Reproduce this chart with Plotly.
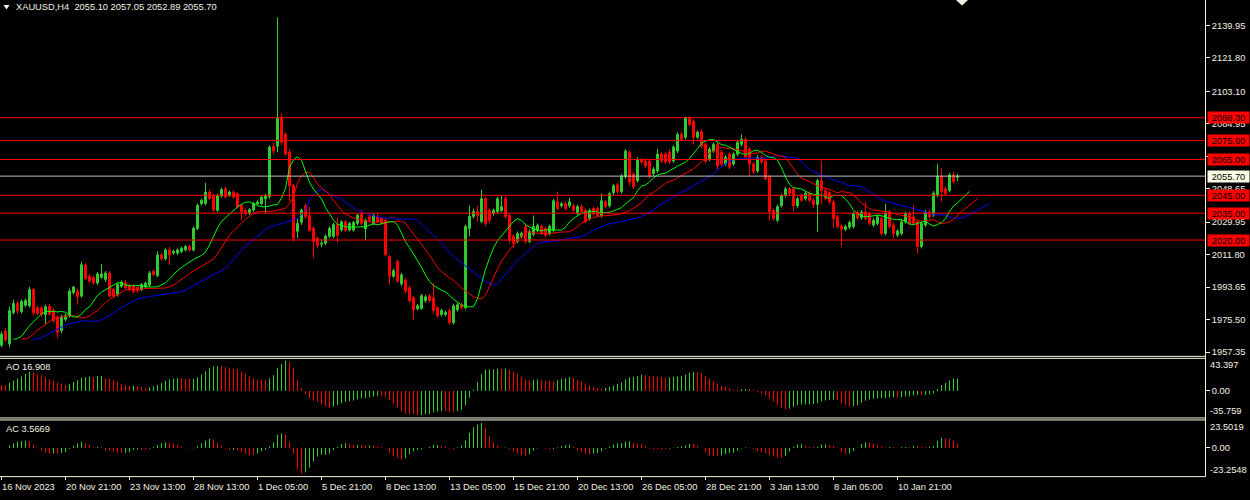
import numpy as np
import pandas as pd
import plotly.graph_objects as go

# ---------------- data ----------------
opens = [
1961.2,1969.0,1962.0,1979.5,1984.6,1980.0,1983.6,1983.2,1992.4,1982.2,
1982.0,1978.4,1983.0,1980.7,1976.7,1969.3,1975.7,1977.6,1990.7,1991.5,
1988.7,2005.9,1999.8,1999.0,1996.0,1999.2,1997.9,2001.6,1992.4,1989.6,
1994.2,1996.0,1994.8,1994.2,1993.7,1992.4,1993.7,1994.8,2002.5,2000.1,
2011.7,2009.5,2014.5,2012.7,2012.7,2013.6,2014.5,2016.4,2014.5,2026.5,
2040.3,2040.3,2046.8,2044.9,2036.7,2044.6,2048.6,2045.0,2046.8,2045.9,
2039.4,2036.7,2034.8,2036.7,2040.3,2040.3,2043.1,2044.2,2072.4,2072.4,
2088.5,2079.1,2069.1,2050.3,2024.9,2029.9,2039.2,2033.7,2026.5,2021.0,
2017.7,2018.2,2022.1,2022.1,2028.7,2025.6,2030.2,2025.6,2025.6,2029.3,
2034.8,2026.2,2033.0,2029.3,2033.0,2032.0,2031.1,2010.8,1999.8,2008.1,
1995.5,1997.7,1993.3,1987.8,1981.7,1981.7,1986.1,1988.9,1987.8,1982.2,
1978.4,1978.4,1980.6,1973.9,1981.1,1983.9,1982.2,2026.5,2033.2,2035.9,
2030.4,2043.1,2036.5,2034.8,2035.9,2036.5,2043.1,2033.7,2022.1,2019.3,
2022.1,2027.6,2019.3,2023.2,2025.4,2027.6,2026.5,2023.7,2025.4,2041.4,
2039.2,2040.3,2039.2,2039.2,2034.8,2038.7,2036.5,2032.0,2037.6,2037.6,
2033.7,2041.4,2039.2,2046.4,2050.9,2047.0,2055.3,2069.1,2056.9,2053.1,
2064.7,2064.1,2064.1,2057.0,2058.6,2068.0,2068.0,2069.1,2064.1,2069.7,
2079.1,2077.4,2088.5,2086.3,2077.4,2080.7,2073.5,2065.2,2069.7,2073.5,
2069.1,2062.5,2068.0,2062.5,2068.0,2073.5,2076.3,2070.8,2062.5,2058.6,
2066.3,2064.1,2055.3,2036.5,2031.0,2039.2,2044.8,2048.6,2048.6,2039.2,
2045.0,2043.1,2046.2,2042.2,2039.8,2053.2,2047.7,2046.4,2041.3,2033.0,
2027.8,2026.0,2027.2,2027.5,2035.4,2032.4,2035.7,2034.8,2028.4,2029.3,
2032.0,2023.7,2035.7,2028.4,2022.8,2023.7,2030.2,2034.8,2033.0,2030.2,
2016.4,2028.4,2035.7,2033.9,2045.0,2055.6,2048.6,2047.7,2056.4,2055.10]

highs = [
1969.0,1970.6,1982.8,1986.7,1986.1,1986.7,1987.3,1993.9,1993.3,1983.3,
1983.0,1983.9,1984.4,1982.2,1977.8,1978.4,1979.0,1992.9,1994.4,1992.9,
2007.7,2007.1,2001.0,2000.0,2002.1,2006.6,2002.7,2002.7,1993.3,1996.0,
1997.4,1997.7,1995.6,1995.1,1994.6,1996.0,1996.9,2002.7,2003.4,2013.6,
2012.7,2015.4,2016.4,2014.5,2015.4,2016.4,2017.3,2017.3,2027.6,2040.3,
2043.1,2052.0,2048.1,2046.0,2046.0,2049.2,2049.7,2047.7,2047.7,2046.8,
2040.3,2037.6,2037.9,2041.3,2042.2,2044.9,2045.9,2073.0,2074.1,2144.4,
2090.7,2080.2,2070.8,2051.4,2032.0,2037.6,2040.3,2038.5,2027.6,2021.9,
2020.5,2023.2,2027.6,2029.8,2032.6,2031.1,2031.1,2030.2,2030.8,2034.8,
2036.5,2032.0,2034.0,2034.8,2035.0,2033.0,2032.0,2011.7,2004.0,2009.0,
2001.6,1998.8,1994.4,1988.9,1984.4,1990.0,1989.4,1990.0,1996.1,1983.3,
1981.7,1980.6,1981.7,1984.4,1985.0,1985.0,2028.7,2039.2,2037.6,2039.2,
2048.1,2044.2,2037.6,2037.6,2044.2,2044.8,2044.8,2034.8,2023.2,2024.8,
2024.8,2029.3,2025.9,2033.7,2029.3,2028.7,2027.6,2028.7,2043.1,2047.0,
2041.4,2041.4,2043.6,2040.3,2039.8,2039.8,2037.6,2037.6,2038.7,2038.7,
2045.9,2042.5,2047.0,2051.4,2052.0,2056.9,2070.8,2070.2,2058.0,2066.3,
2065.8,2065.2,2065.2,2060.8,2070.8,2069.1,2069.1,2070.8,2073.0,2080.2,
2080.7,2089.0,2089.0,2087.4,2081.3,2081.8,2074.6,2071.9,2074.6,2074.6,
2070.2,2067.4,2069.1,2069.1,2075.7,2079.1,2077.4,2071.9,2063.6,2067.4,
2067.4,2065.2,2056.4,2037.6,2039.8,2045.9,2049.7,2049.7,2049.7,2044.2,
2046.1,2047.3,2047.3,2043.3,2054.2,2064.3,2048.8,2047.5,2042.4,2034.1,
2028.9,2028.6,2030.9,2035.9,2036.5,2036.8,2041.3,2035.9,2032.2,2034.1,
2033.1,2040.3,2036.8,2029.5,2026.1,2031.3,2035.9,2035.9,2039.4,2031.3,
2030.4,2036.8,2036.8,2047.3,2062.5,2060.1,2049.7,2057.5,2057.9,2057.05]

lows = [
1960.1,1962.9,1960.1,1978.4,1978.9,1979.0,1982.3,1982.2,1977.9,1977.9,
1977.3,1973.0,1977.8,1973.9,1965.2,1967.9,1974.5,1976.7,1989.5,1984.0,
1987.8,1997.7,1996.1,1995.0,1995.0,1998.3,1996.6,1987.8,1987.8,1988.4,
1993.3,1992.4,1991.2,1990.0,1990.7,1991.5,1992.9,1994.0,1999.8,1999.2,
2008.5,2008.6,2006.2,2011.7,2011.7,2012.7,2013.6,2013.6,2013.6,2025.4,
2039.2,2039.4,2042.2,2035.7,2035.7,2043.6,2043.1,2044.0,2043.1,2037.6,
2031.1,2033.7,2033.9,2035.7,2039.4,2039.4,2034.8,2043.1,2068.0,2069.1,
2073.0,2067.0,2042.0,2019.3,2021.0,2028.4,2032.0,2024.6,2009.9,2015.4,
2016.0,2017.1,2021.0,2021.0,2018.7,2024.6,2024.6,2024.8,2024.6,2028.4,
2028.4,2020.0,2030.2,2028.4,2029.3,2028.4,2010.8,1995.1,1998.8,1996.1,
1994.4,1990.5,1985.0,1975.6,1980.6,1981.1,1985.0,1985.0,1979.0,1976.7,
1977.3,1977.3,1972.8,1972.8,1980.0,1981.1,1981.1,2022.1,2032.0,2030.2,
2029.3,2027.6,2029.3,2033.7,2034.8,2035.4,2032.0,2018.2,2015.4,2018.2,
2021.0,2018.2,2018.2,2022.1,2024.3,2022.6,2021.5,2022.6,2024.3,2036.5,
2038.1,2036.5,2038.1,2035.4,2033.7,2034.8,2029.3,2030.9,2033.7,2032.6,
2032.6,2037.6,2038.1,2045.3,2045.9,2045.9,2054.2,2050.3,2048.6,2052.0,
2062.5,2060.3,2054.2,2055.9,2057.5,2063.0,2062.5,2062.5,2063.0,2068.6,
2075.2,2076.3,2083.5,2073.5,2076.3,2071.3,2063.0,2064.1,2068.6,2059.7,
2061.4,2061.4,2059.7,2061.4,2066.9,2072.4,2065.2,2055.9,2057.0,2057.5,
2062.5,2053.1,2031.0,2030.9,2029.8,2038.1,2043.7,2044.8,2035.9,2038.1,
2041.1,2042.0,2041.1,2038.0,2024.6,2039.8,2042.0,2040.2,2026.9,2026.4,
2016.4,2024.9,2026.1,2026.4,2031.3,2031.3,2030.9,2028.2,2027.3,2028.2,
2022.6,2022.6,2026.4,2021.0,2021.7,2022.6,2029.1,2028.2,2028.2,2012.7,
2015.3,2027.3,2031.9,2032.8,2043.9,2041.3,2044.8,2046.6,2051.6,2052.89]

closes = [
1967.5,1964.2,1980.6,1984.6,1980.4,1985.6,1986.2,1992.4,1979.5,1979.1,
1978.5,1982.8,1978.6,1974.9,1968.4,1977.0,1977.8,1991.5,1993.7,1988.4,
2006.2,1998.5,1997.0,1996.0,2001.0,2001.0,2001.6,1988.7,1988.7,1995.1,
1996.5,1993.3,1992.4,1991.0,1991.8,1995.1,1996.0,2001.6,2000.7,2011.7,
2009.5,2014.5,2011.7,2013.6,2014.5,2015.4,2016.4,2014.5,2026.5,2039.4,
2042.2,2046.8,2043.1,2036.7,2044.9,2048.2,2044.0,2046.8,2044.0,2038.5,
2035.7,2034.8,2037.0,2040.3,2041.3,2044.0,2044.9,2071.9,2069.7,2088.5,
2074.6,2068.0,2050.3,2021.0,2029.3,2036.8,2033.1,2025.4,2019.3,2017.1,
2018.2,2022.1,2026.5,2028.7,2022.6,2030.2,2025.4,2029.3,2029.8,2033.9,
2029.3,2031.1,2031.1,2033.9,2030.2,2029.3,2011.7,1999.8,2002.9,1997.0,
2000.5,1991.6,1986.1,1981.1,1983.3,1988.9,1988.3,1986.1,1980.6,1977.8,
1980.6,1979.5,1973.9,1983.3,1983.9,1982.2,2027.6,2033.2,2035.9,2033.7,
2043.1,2029.3,2031.0,2036.5,2043.1,2038.7,2033.2,2019.9,2018.2,2023.7,
2023.7,2019.3,2024.8,2027.6,2028.2,2023.7,2022.6,2027.6,2042.0,2037.6,
2040.3,2037.6,2041.4,2036.5,2038.7,2036.0,2030.4,2036.5,2034.8,2033.7,
2042.0,2038.7,2045.9,2050.3,2047.0,2055.8,2069.7,2052.5,2049.7,2065.2,
2063.6,2061.4,2055.8,2059.7,2068.0,2064.1,2063.6,2063.6,2071.9,2079.1,
2076.3,2088.5,2084.6,2077.4,2080.2,2072.4,2064.1,2070.8,2073.5,2061.4,
2062.5,2066.3,2060.8,2068.0,2074.6,2076.3,2066.3,2062.5,2058.1,2066.3,
2063.6,2054.2,2035.9,2032.0,2038.7,2044.8,2048.6,2045.9,2039.2,2043.1,
2042.2,2046.2,2042.2,2039.8,2053.2,2047.7,2043.1,2041.3,2032.0,2027.5,
2026.1,2027.5,2029.8,2034.8,2032.4,2035.7,2032.0,2029.3,2031.1,2033.0,
2023.7,2034.8,2027.5,2023.7,2025.0,2030.2,2034.8,2029.3,2029.3,2016.4,
2029.3,2035.7,2033.0,2046.2,2055.6,2046.8,2045.9,2056.4,2052.7,2055.70]

# AO values of the first bars (before 34 bars of history exist)
ao_first_bars = [8.0, 7.8, 11.2, 13.9, 17.0, 20.1, 23.2, 25.9, 25.0, 23.2,
                 21.9, 18.8, 16.1, 13.9, 11.2, 9.8, 8.5, 9.8, 12.1, 14.8,
                 17.9, 18.8, 19.2, 18.8, 20.1, 20.3, 17.0, 16.1, 14.8, 12.1,
                 9.8, 8.0, 6.7]

x_tick_bars = [0, 16, 32, 48, 64, 80, 96, 112, 128, 144, 160, 176, 192, 208, 224]
x_tick_labels = ["16 Nov 2023", "20 Nov 21:00", "23 Nov 13:00", "28 Nov 13:00",
                 "1 Dec 05:00", "5 Dec 21:00", "8 Dec 13:00", "13 Dec 05:00",
                 "15 Dec 21:00", "20 Dec 13:00", "26 Dec 05:00", "28 Dec 21:00",
                 "3 Jan 13:00", "8 Jan 05:00", "10 Jan 21:00"]
price_ticks = [2139.95, 2121.80, 2103.10, 2084.95, 2066.80, 2048.65,
               2029.95, 2011.80, 1993.65, 1975.50, 1957.35]
level_prices = [2088.30, 2075.60, 2065.00, 2045.00, 2035.00, 2020.00]
bid_price = 2055.70
title_text = "XAUUSD,H4\u00a0 2055.10 2057.05 2052.89 2055.70"
ao_label = "AO 16.908"
ac_label = "AC 3.5669"
ao_range = [-35.759, 43.397]
ac_range = [-23.2548, 23.5019]
alligator = [  # (period, shift, colour)
    (13, 8, "#0000FF"),
    (8, 5, "#FF0000"),
    (5, 3, "#00FF00"),
]

# ---------------- styling ----------------
W, H = 1250, 500
BG = "#000000"
FG = "#F2F2E4"
BORDER = "#F5F5DC"
GREEN = "#32CD32"
RED = "#FF0000"
FONT = "Liberation Sans, Arial, sans-serif"
FS = 9.3

def px(x):
    return x / W

def py(y):
    return 1 - y / H

n = len(closes)
idx = np.arange(n)
o = np.array(opens); h = np.array(highs); l = np.array(lows); c = np.array(closes)
median = pd.Series((h + l) / 2.0)

# indicators (Bill Williams): Alligator, AO, AC
ao = median.rolling(5).mean() - median.rolling(34).mean()
k = len(ao_first_bars)
ao.iloc[:k] = ao_first_bars
ac = ao - ao.rolling(5, min_periods=1).mean()

fig = go.Figure()

fig.add_trace(go.Candlestick(
    x=idx, open=o, high=h, low=l, close=c,
    increasing=dict(line=dict(color=GREEN, width=1), fillcolor=GREEN),
    decreasing=dict(line=dict(color=RED, width=1), fillcolor=RED),
    whiskerwidth=0, xaxis="x", yaxis="y", hoverinfo="skip", showlegend=False))

for period, shift, col in alligator:
    sm = median.ewm(alpha=1.0 / period, adjust=False).mean()
    fig.add_trace(go.Scatter(x=idx + shift, y=sm, mode="lines",
                             line=dict(color=col, width=1),
                             xaxis="x", yaxis="y", hoverinfo="skip", showlegend=False))

def histogram_traces(series, xa, ya):
    vals = series.values
    up = np.r_[False, np.diff(vals) > 0]
    for flag, col in [(True, GREEN), (False, RED)]:
        xs, ys = [], []
        for i in range(len(vals)):
            if up[i] == flag:
                xs += [i, i, None]
                ys += [0, vals[i], None]
        fig.add_trace(go.Scatter(x=xs, y=ys, mode="lines", line=dict(color=col, width=1),
                                 xaxis=xa, yaxis=ya, hoverinfo="skip", showlegend=False))

histogram_traces(ao, "x2", "y2")
histogram_traces(ac, "x3", "y3")

xr = [-0.375, 300.875]
xdom = [0, px(1205)]
common_x = dict(range=xr, domain=xdom, showgrid=False, zeroline=False, showline=False,
                fixedrange=True)
tf = dict(family=FONT, size=FS, color=FG)

fig.update_layout(
    width=W, height=H, margin=dict(l=0, r=0, t=0, b=0, pad=0),
    paper_bgcolor=BG, plot_bgcolor=BG, showlegend=False,
    xaxis=dict(**common_x, anchor="y", showticklabels=False, ticks="",
               rangeslider=dict(visible=False)),
    xaxis2=dict(**common_x, anchor="y2", showticklabels=False, ticks=""),
    xaxis3=dict(**common_x, anchor="y3", showticklabels=False, ticks="outside",
                ticklen=4, tickcolor=BORDER, tickwidth=1, tickvals=x_tick_bars),
    yaxis=dict(domain=[py(357), 1], range=[1955.86, 2154.10], side="right", anchor="x",
               tickvals=price_ticks, ticktext=[f"{v:.2f}" for v in price_ticks],
               ticks="outside", ticklen=4, tickcolor=BORDER, tickfont=tf,
               showgrid=False, zeroline=False, showline=False, fixedrange=True),
    yaxis2=dict(domain=[py(420), py(361)], range=ao_range, side="right", anchor="x2",
                tickvals=[0], ticktext=["0.00"], ticks="outside", ticklen=4,
                tickcolor=BORDER, tickfont=tf, showgrid=False, zeroline=False,
                showline=False, fixedrange=True),
    yaxis3=dict(domain=[py(478), py(423)], range=ac_range, side="right", anchor="x3",
                tickvals=[0], ticktext=["0.00"], ticks="outside", ticklen=4,
                tickcolor=BORDER, tickfont=tf, showgrid=False, zeroline=False,
                showline=False, fixedrange=True),
)

shapes = []
for v in level_prices:
    shapes.append(dict(type="line", xref="paper", yref="y", x0=0, x1=px(1205), y0=v, y1=v,
                       line=dict(color=RED, width=1), layer="above"))
shapes.append(dict(type="line", xref="paper", yref="y", x0=0, x1=px(1205),
                   y0=bid_price, y1=bid_price, line=dict(color="#C0C0C0", width=1), layer="above"))
for yy in [358.5, 360.5, 420.5, 422.5, 479.5]:
    shapes.append(dict(type="line", xref="paper", yref="paper", x0=0, x1=px(1205.5),
                       y0=py(yy), y1=py(yy), line=dict(color=BORDER, width=1), layer="above"))
shapes.append(dict(type="line", xref="paper", yref="paper", x0=px(1205.5), x1=px(1205.5),
                   y0=py(0), y1=py(479.5), line=dict(color=BORDER, width=1), layer="above"))

def tri(x0, x1, ytop, ybot):
    xm = (x0 + x1) / 2
    return dict(type="path", xref="paper", yref="paper",
                path=f"M {px(x0)} {py(ytop)} L {px(x1)} {py(ytop)} L {px(xm)} {py(ybot)} Z",
                fillcolor=FG, line=dict(color=FG, width=0), layer="above")
shapes.append(tri(3.5, 9.5, 5, 9.5))
shapes.append(tri(956, 968, 0, 5.5))

ann = []
ann.append(dict(text=title_text, xref="paper", yref="paper", x=px(14), y=py(7.5),
                xanchor="left", yanchor="middle", showarrow=False, font=tf))
ann.append(dict(text=ao_label, xref="paper", yref="paper", x=px(4), y=py(369),
                xanchor="left", yanchor="middle", showarrow=False, font=tf))
ann.append(dict(text=ac_label, xref="paper", yref="paper", x=px(4), y=py(431.5),
                xanchor="left", yanchor="middle", showarrow=False, font=tf))
side_labels = [(f"{ao_range[1]:.3f}", 367.7), (f"{ao_range[0]:.3f}", 413.7),
               (f"{ac_range[1]:.4f}", 429.2), (f"{ac_range[0]:.4f}", 472.7)]
for t, yy in side_labels:
    ann.append(dict(text=t, xref="paper", yref="paper", x=px(1208), y=py(yy),
                    xanchor="left", yanchor="middle", showarrow=False, font=tf))
for v in level_prices:
    ann.append(dict(text=f"{v:.2f}", xref="paper", yref="y", x=px(1207), y=v,
                    xanchor="left", yanchor="middle", showarrow=False,
                    font=dict(family=FONT, size=FS, color="#000000"),
                    bgcolor=RED, width=39, height=9, borderpad=1))
ann.append(dict(text=f"{bid_price:.2f}", xref="paper", yref="y", x=px(1207), y=bid_price,
                xanchor="left", yanchor="middle", showarrow=False,
                font=dict(family=FONT, size=FS, color="#000000"),
                bgcolor="#FFFFE6", width=39, height=9, borderpad=1))
for b, t in zip(x_tick_bars, x_tick_labels):
    ann.append(dict(text=t, xref="x3", yref="paper", x=b, y=py(490),
                    xanchor="left", yanchor="middle", showarrow=False, font=tf, xshift=-2))

fig.update_layout(shapes=shapes, annotations=ann)
fig.write_html("out.html",
               config={"displayModeBar": False},
               post_script="document.body.style.margin='0';document.body.style.padding='0';"
                           "document.body.style.overflow='hidden';document.body.style.background='#000';")
